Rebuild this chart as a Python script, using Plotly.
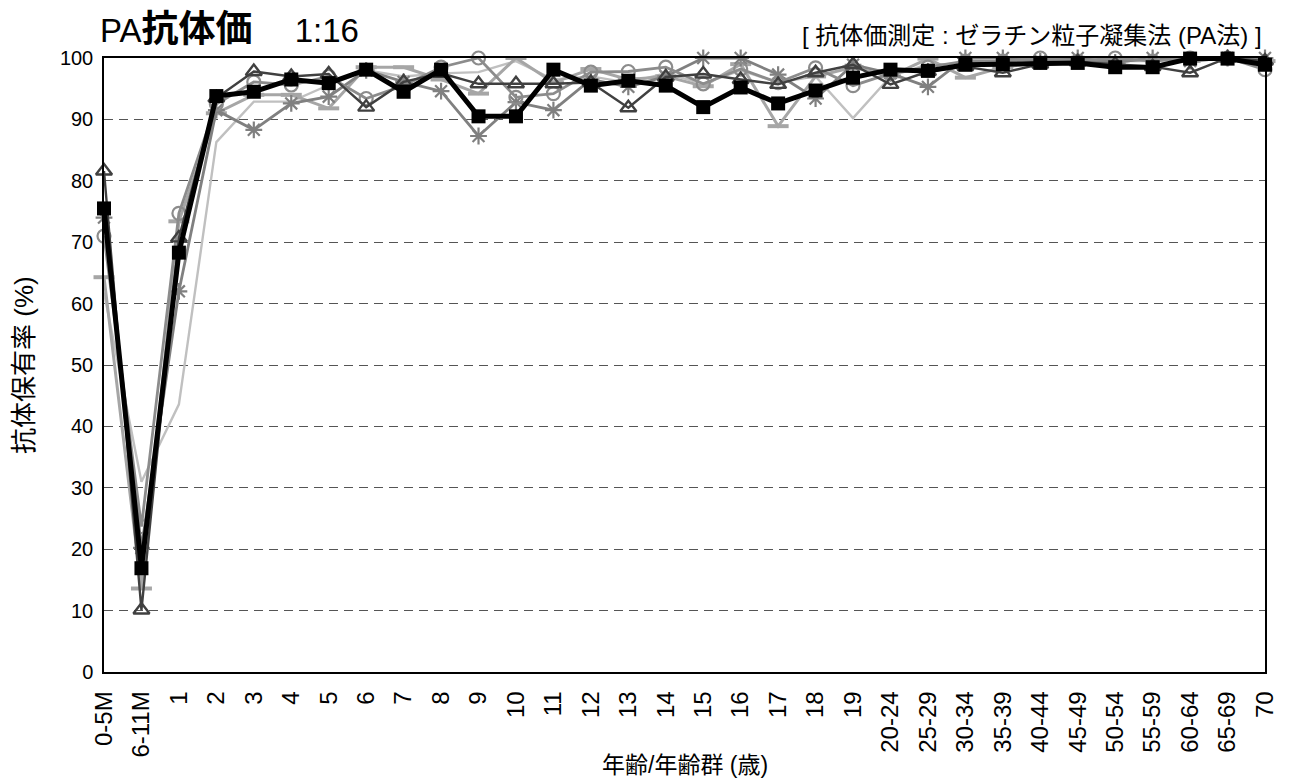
import plotly.graph_objects as go

categories = ["0-5M", "6-11M", "1", "2", "3", "4", "5", "6", "7", "8", "9", "10",
              "11", "12", "13", "14", "15", "16", "17", "18", "19",
              "20-24", "25-29", "30-34", "35-39", "40-44", "45-49", "50-54",
              "55-59", "60-64", "65-69", "70"]

lightgray_vals = [61.8, 31.0, 43.6, 86.3, 92.9, 92.9, 95.6, 98.0, 97.0, 97.5, 97.7, 99.5,
                  96.5, 97.0, 96.0, 97.5, 95.8, 98.0, 96.0, 97.0, 90.2,
                  97.0, 99.0, 99.0, 99.5, 99.5, 100, 99.5, 99.5, 100, 100, 100]
dash_vals = [64.3, 13.6, 73.4, 91.0, 94.0, 94.0, 91.8, 98.5, 98.5, 96.5, 94.2, 100,
             96.0, 98.2, 96.5, 97.0, 95.4, 99.0, 88.9, 97.0, 98.5,
             97.0, 99.9, 96.8, 98.5, 99.3, 99.5, 99.3, 100, 99.5, 100, 99.5]
asterisk_vals = [74.0, 20.2, 62.0, 91.5, 88.3, 92.6, 93.7, 98.0, 96.1, 94.6, 87.3, 92.8,
                 91.5, 96.5, 95.3, 97.0, 100, 100, 97.3, 93.4, 98.9,
                 97.5, 95.3, 100, 100, 99.5, 100, 99.3, 100, 99.5, 100, 100]
circle_vals = [71.0, 23.7, 74.7, 92.5, 96.1, 95.6, 97.0, 93.4, 95.5, 98.5, 100, 93.6,
               94.2, 97.7, 97.8, 98.5, 95.8, 98.2, 96.0, 98.4, 95.5,
               97.5, 98.5, 99.5, 99.5, 100, 99.5, 100, 99.5, 100, 100, 98.1]
triangle_vals = [81.6, 10.1, 70.7, 93.5, 97.8, 97.0, 97.4, 92.0, 96.1, 97.5, 95.8, 95.8,
                 95.8, 96.0, 91.9, 96.9, 97.4, 96.5, 95.7, 97.6, 98.9,
                 95.7, 97.8, 98.6, 97.6, 99.0, 99.4, 99.0, 98.6, 97.6, 100, 99.5]
square_vals = [75.5, 16.9, 68.3, 93.8, 94.5, 96.5, 95.9, 98.1, 94.5, 98.1, 90.5, 90.5,
               98.1, 95.5, 96.3, 95.5, 92.0, 95.2, 92.6, 94.7, 96.8,
               98.1, 97.9, 98.9, 99.0, 99.2, 99.2, 98.5, 98.5, 99.9, 99.9, 98.9]

y_ticks = [0, 10, 20, 30, 40, 50, 60, 70, 80, 90, 100]

FONT = "Liberation Sans, Arial, Noto Sans CJK JP, sans-serif"

fig = go.Figure()

fig.add_trace(go.Scatter(x=categories, y=lightgray_vals, mode="lines",
                         line=dict(color="#c0c0c0", width=2.4), cliponaxis=False))
fig.add_trace(go.Scatter(x=categories, y=dash_vals, mode="lines+markers",
                         line=dict(color="#a6a6a6", width=3),
                         marker=dict(symbol="line-ew-open", size=15,
                                     line=dict(color="#a6a6a6", width=4)),
                         cliponaxis=False))
fig.add_trace(go.Scatter(x=categories, y=asterisk_vals, mode="lines+markers",
                         line=dict(color="#808080", width=2.8),
                         marker=dict(symbol="asterisk-open", size=14,
                                     line=dict(color="#808080", width=2.2)),
                         cliponaxis=False))
fig.add_trace(go.Scatter(x=categories, y=circle_vals, mode="lines+markers",
                         line=dict(color="#8c8c8c", width=2.8),
                         marker=dict(symbol="circle-open", size=13,
                                     line=dict(color="#8c8c8c", width=2.2)),
                         cliponaxis=False))
fig.add_trace(go.Scatter(x=categories, y=triangle_vals, mode="lines+markers",
                         line=dict(color="#404040", width=2.4),
                         marker=dict(symbol="triangle-up-open", size=14,
                                     line=dict(color="#404040", width=2.4)),
                         cliponaxis=False))
fig.add_trace(go.Scatter(x=categories, y=square_vals, mode="lines+markers",
                         line=dict(color="#000000", width=5),
                         marker=dict(symbol="square", size=14, color="#000000"),
                         cliponaxis=False))

OFFX, OFFY = 5, 8
W, H = 1290 - 8, 781 - OFFY
PL, PR, PT, PB = 101 - OFFX, 1272 - OFFX, 58 - OFFY, 672 - OFFY

fig.update_layout(
    width=W, height=H,
    margin=dict(l=PL, r=W - PR, t=PT, b=H - PB),
    paper_bgcolor="white", plot_bgcolor="white",
    showlegend=False,
    font=dict(family=FONT, color="black", size=20),
    title=dict(text="PA<span style='font-size:37px'><b>抗体価</b></span>　 1:16",
               xref="container", yref="container",
               x=(97 - OFFX) / W, xanchor="left", y=1 - (30 - OFFY) / H, yanchor="middle",
               font=dict(family=FONT, size=33, color="black")),
    xaxis=dict(type="category", range=[0, len(categories) - 1],
               tickangle=-90, showgrid=False, ticks="", ticklabelstandoff=8,
               showline=True, linecolor="black", linewidth=1.5, mirror=True,
               tickfont=dict(size=24, family=FONT)),
    yaxis=dict(range=[0, 100], tickvals=y_ticks, ticks="", ticklabelstandoff=5,
               showgrid=True, gridcolor="#555555", gridwidth=1, griddash="9px,6px",
               showline=True, linecolor="black", linewidth=1.5, mirror=True,
               zeroline=False, tickfont=dict(size=20, family=FONT)),
    annotations=[
        dict(text="[ 抗体価測定 : ゼラチン粒子凝集法 (PA法) ]",
             xref="paper", yref="paper", x=1, y=1.0, xanchor="right",
             yanchor="middle", yshift=58 - 35, xshift=-1, showarrow=False,
             font=dict(size=24, family=FONT, color="black")),
        dict(text="年齢/年齢群 (歳)", xref="paper", yref="paper", x=0.5, y=0,
             xanchor="center", yanchor="middle", yshift=-(765 - 672),
             showarrow=False, font=dict(size=23, family=FONT, color="black")),
        dict(text="抗体保有率 (%)", xref="paper", yref="paper", x=0, y=0.5,
             xanchor="center", yanchor="middle", xshift=-(101 - 21), textangle=-90,
             showarrow=False, font=dict(size=26, family=FONT, color="black")),
    ],
)

fig.write_html("out.html")
